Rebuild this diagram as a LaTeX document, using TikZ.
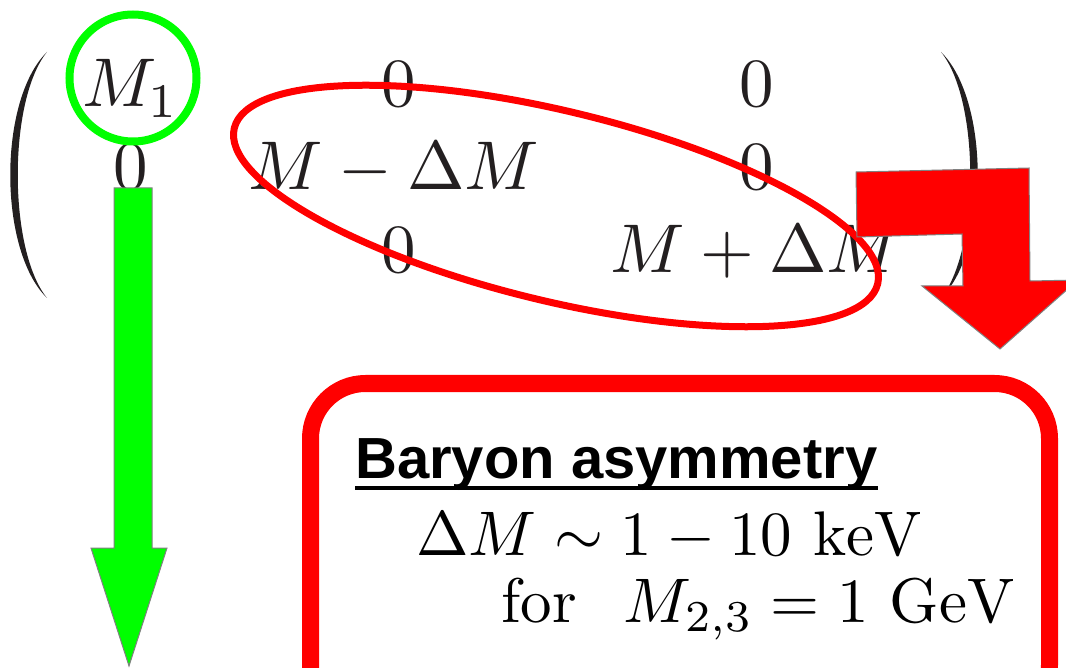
\documentclass[tikz,border=0pt]{standalone}
\usepackage{amsmath}
\usepackage{fontspec}
\newfontfamily\boxfont{Liberation Sans}
\usepackage{tikz}
\usetikzlibrary{calc}
\definecolor{ringgreen}{RGB}{0,255,0}
\definecolor{boxred}{RGB}{255,0,0}
\definecolor{ink}{RGB}{35,31,32}

\begin{document}
\begin{tikzpicture}[x=1pt,y=-1pt,
    entry/.style={anchor=base,inner sep=0pt,text=ink,font=\fontsize{10}{12}\selectfont,scale=6.9},
    boxline/.style={anchor=base west,inner sep=0pt,text=black,font=\fontsize{10}{12}\selectfont,scale=6.3}]
    \useasboundingbox (0,0) rectangle (1066,668);
    \clip (0,0) rectangle (1066,668);
    % mass matrix
    \node[entry] (m11) at (131,107) {$M_1$};
    \node[entry] (m12) at (399,107) {$0$};
    \node[entry] (m13) at (757,107) {$0$};
    \node[entry] (m21) at (131,190) {$0$};
    \node[entry] (m22) at (394,190) {$M-\Delta M$};
    \node[entry] (m23) at (757,190) {$0$};
    \node[entry] (m31) at (131,273) {$0$};
    \node[entry] (m32) at (399,273) {$0$};
    \node[entry] (m33) at (756,273) {$M+\Delta M$};
    \fill[ink] (47,52) .. controls (-2,100) and (-2,250) .. (47,298)
        .. controls (8,250) and (8,100) .. (47,52);
    \fill[ink] (941,52) .. controls (990,100) and (990,250) .. (941,298)
        .. controls (980,250) and (980,100) .. (941,52);
    % highlights
    \coordinate (C) at (133,78);
    \coordinate (E) at (556,206);
    \draw[ringgreen,line width=8] (C) circle (63.5);
    \draw[boxred,line width=7,rotate around={-13.6:(E)}] (E) ellipse (331 and 95);
    % block arrows
    \def\shaft{19}
    \fill[ringgreen,draw=gray,line width=1] ($(C)+(-\shaft,110)$) -- ($(C)+(\shaft,110)$)
        -- ($(C)+(\shaft,470)$) -- ($(C)+(34,470)$) -- ($(C)+(-4,588)$)
        -- ($(C)+(-42,470)$) -- ($(C)+(-\shaft,470)$) -- cycle;
    \fill[boxred,draw=gray,line width=1] (856,172) -- (1029,168) -- (1030,281) -- (1078,280)
        -- (1000,349) -- (922,286) -- (963,286) -- (962,234) -- (857,237) -- cycle;
    % result box
    \draw[boxred,line width=17,rounded corners=55] (310.5,383.5) rectangle (1049.5,720);
    \node[anchor=base west,inner sep=0pt,font=\boxfont\bfseries\fontsize{58}{66}\selectfont]
        (title) at (355,478) {Baryon asymmetry};
    \draw[line width=4] ([yshift=-10pt]title.base west) -- ([yshift=-10pt]title.base east);
    \node[boxline] (gap) at (415,555) {$\Delta M \sim 1 - 10\ \mathrm{keV}$};
    \node[boxline] (mass) at (500,622) {for\hspace{0.75em}$M_{2,3} = 1\ \mathrm{GeV}$};
\end{tikzpicture}
\end{document}
